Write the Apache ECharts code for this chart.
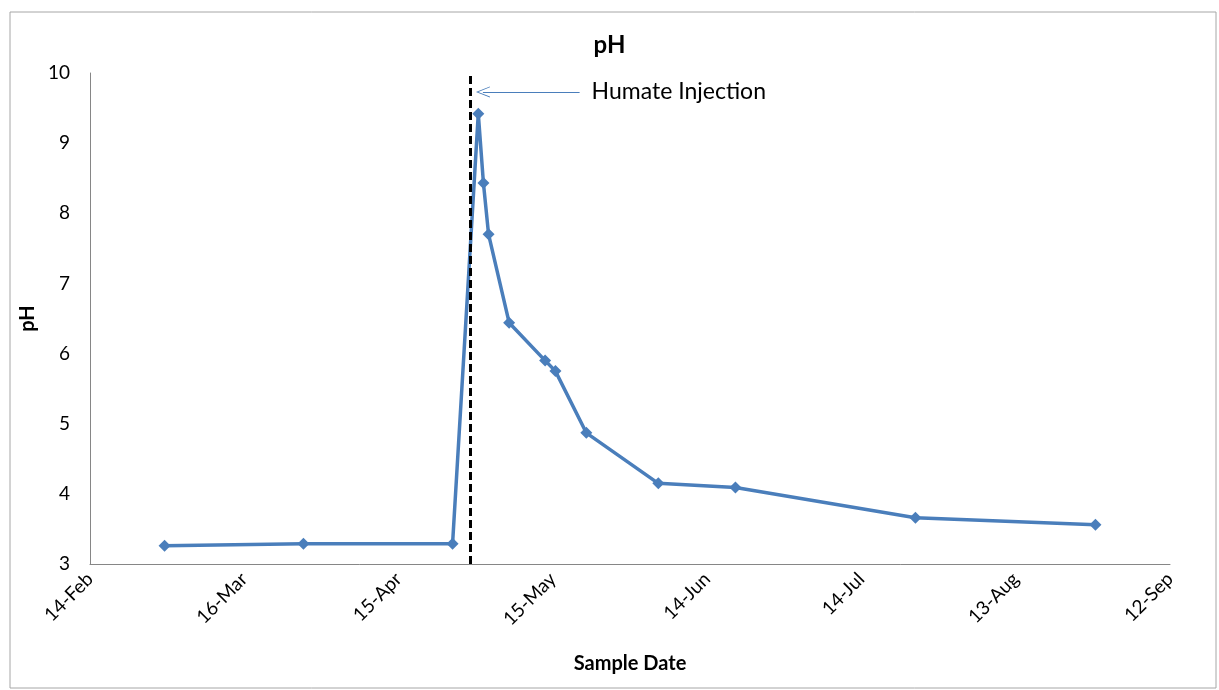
<!DOCTYPE html>
<html>
<head>
<meta charset="utf-8">
<script src="https://cdn.jsdelivr.net/npm/echarts@6/dist/echarts.min.js"></script>
<style>
  html, body { margin: 0; padding: 0; background: #fff; }
  #chart { width: 1219px; height: 690px; }
</style>
</head>
<body>
<div id="chart"></div>
<script>
// sample dates (MM-DD, same year) and measured pH
const sampleDates = ['02-28', '03-27', '04-25', '04-30', '05-01', '05-02', '05-06',
    '05-13', '05-15', '05-21', '06-04', '06-19', '07-24', '08-28'];
const phValues = [3.26, 3.29, 3.29, 9.42, 8.43, 7.70, 6.44, 5.90, 5.75, 4.87, 4.15, 4.09, 3.66, 3.56];
const tickLabels = ['14-Feb', '16-Mar', '15-Apr', '15-May', '14-Jun', '14-Jul', '13-Aug', '12-Sep'];
const injectionDate = '04-29';

const YEAR = 2011;
function dayOffset(md) {
    const [m, d] = md.split('-').map(Number);
    const t0 = Date.UTC(YEAR, 1, 14); // axis starts 14-Feb
    return (Date.UTC(YEAR, m - 1, d) - t0) / 86400000;
}

// points sit in the middle of their day
const seriesData = sampleDates.map((d, i) => [dayOffset(d) + 0.5, phValues[i]]);
const injectDay = dayOffset(injectionDate);

const chart = echarts.init(document.getElementById('chart'), null, { renderer: 'canvas' });
const font = 'Lato, "Open Sans", sans-serif';

chart.setOption({
    animation: false,
    title: {
        text: 'pH',
        left: 'center',
        top: 28,
        textStyle: { fontFamily: font, fontWeight: 'bold', fontSize: 24, color: '#000' }
    },
    graphic: [{
        type: 'rect',
        shape: { x: 10, y: 12, width: 1206, height: 676 },
        style: { fill: 'none', stroke: '#a6a6a6', lineWidth: 1 },
        silent: true
    }],
    grid: { left: 90, right: 49, top: 73, bottom: 126 },
    xAxis: {
        type: 'value',
        min: 0,
        max: 210,
        interval: 30,
        name: 'Sample Date',
        nameLocation: 'middle',
        nameGap: 90,
        nameTextStyle: { fontFamily: font, fontWeight: 'bold', fontSize: 20, color: '#000' },
        axisLine: { show: true, lineStyle: { color: '#868686', width: 1 } },
        axisTick: { show: false },
        splitLine: { show: false },
        axisLabel: {
            rotate: 45,
            margin: 12,
            fontFamily: font,
            fontSize: 19,
            color: '#000',
            formatter: v => tickLabels[Math.round(v / 30)] || ''
        }
    },
    yAxis: {
        type: 'value',
        min: 3,
        max: 10,
        interval: 1,
        name: 'pH',
        nameLocation: 'middle',
        nameGap: 50,
        nameTextStyle: { fontFamily: font, fontWeight: 'bold', fontSize: 20, color: '#000' },
        axisLine: { show: true, lineStyle: { color: '#868686', width: 1 } },
        axisTick: { show: false },
        splitLine: { show: false },
        axisLabel: { fontFamily: font, fontSize: 19, color: '#000', margin: 20 }
    },
    series: [{
        type: 'line',
        data: seriesData,
        symbol: 'diamond',
        symbolSize: 12,
        itemStyle: { color: '#4a7ebb' },
        lineStyle: { color: '#4a7ebb', width: 3.5 },
        markLine: {
            silent: true,
            symbol: 'none',
            lineStyle: { color: '#000', type: [8, 4], width: 3 },
            label: { show: false },
            data: [{ xAxis: injectDay }]
        }
    }, {
        type: 'line',
        data: [],
        markLine: {
            silent: true,
            symbol: ['none', 'path://M0,0 L10,18 L8.5,18 L0,3 L-8.5,18 L-10,18 Z'],
            symbolSize: [11, 14],
            lineStyle: { color: '#4a7ebb', type: 'solid', width: 1.2 },
            label: {
                show: true,
                position: 'start',
                distance: 12,
                formatter: 'Humate Injection',
                fontFamily: font,
                fontSize: 23,
                color: '#000'
            },
            data: [[{ coord: [95.2, 9.73] }, { coord: [76.4, 9.73] }]]
        }
    }]
});
</script>
</body>
</html>
